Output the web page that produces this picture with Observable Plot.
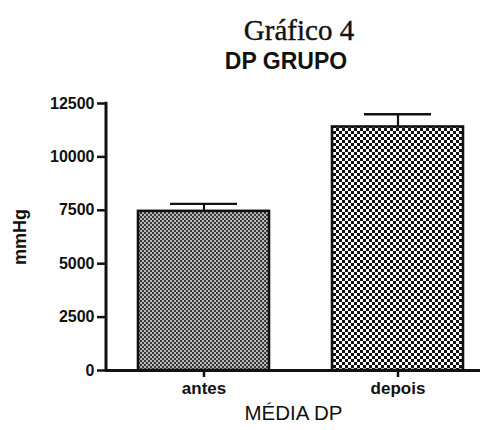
<!DOCTYPE html>
<html>
<head>
<meta charset="utf-8">
<script src="https://cdn.jsdelivr.net/npm/d3@7"></script>
<script src="https://cdn.jsdelivr.net/npm/@observablehq/plot@0.6"></script>
<style>
  body { margin: 0; background: #fff; width: 483px; height: 430px; overflow: hidden; }
  #head { height: 80px; position: relative; }
  #t1 { position: absolute; top: 16px; left: 0; width: 598px; text-align: center; font-family: "Liberation Serif", serif; font-size: 29px; line-height: 29px; color: #111; -webkit-text-stroke: 0.4px #111; white-space: nowrap; }
  #t2 { position: absolute; top: 50px; left: 0; width: 572px; text-align: center; font-family: "Liberation Sans", Arial, sans-serif; font-weight: bold; font-size: 23px; line-height: 23px; color: #111; white-space: nowrap; }
</style>
</head>
<body>
<div id="head"><div id="t1">Gráfico 4</div><div id="t2">DP GRUPO</div></div>
<div id="chart"></div>
<script>
const categories = ["antes", "depois"];
const means = [7450, 11400];
const errors = [350, 600];
const yTicks = [0, 2500, 5000, 7500, 10000, 12500];
const patternIds = ["patFine", "patCoarse"];

const data = categories.map((c, i) => ({cat: c, mean: means[i], top: means[i] + errors[i], pat: `url(#${patternIds[i]})`}));

const chart = Plot.plot({
  width: 483,
  height: 350,
  marginLeft: 106,
  marginRight: 3,
  marginTop: 23,
  marginBottom: 60,
  style: {fontFamily: "'Liberation Sans', Arial, sans-serif", background: "#fff", color: "#111"},
  x: {domain: categories, paddingInner: 0.325, paddingOuter: 0.126, align: 0.66, label: null},
  y: {domain: [0, 12500], label: null},
  marks: [
    Plot.barY(data, {x: "cat", y: "mean", fill: "pat", stroke: "#111", strokeWidth: 2.6}),
    Plot.ruleX(data, {x: "cat", y1: "mean", y2: "top", stroke: "#111", strokeWidth: 2.2}),
    Plot.tickY(data, {x: "cat", y: "top", stroke: "#111", strokeWidth: 2.4, insetLeft: 32, insetRight: 32}),
    Plot.ruleY([0], {stroke: "#111", strokeWidth: 3}),
    Plot.axisY({ticks: yTicks, tickFormat: d => String(d), tickSize: 9, tickPadding: 3, fontSize: 16, fontWeight: "bold", strokeWidth: 2.5, label: null}),
    Plot.axisX({tickSize: 7, tickPadding: 4, fontSize: 17, fontWeight: "bold", strokeWidth: 2.5, label: null}),
    Plot.text(["mmHg"], {frameAnchor: "left", textAnchor: "middle", rotate: -90, dx: -86.5, fontSize: 18, fontWeight: "bold"}),
    Plot.text(["MÉDIA DP"], {frameAnchor: "bottom", dy: 49, fontSize: 20.5})
  ]
});

const ns = "http://www.w3.org/2000/svg";
const defs = document.createElementNS(ns, "defs");
function makePattern(id, size, bg, fg) {
  const p = document.createElementNS(ns, "pattern");
  p.setAttribute("id", id);
  p.setAttribute("patternUnits", "userSpaceOnUse");
  p.setAttribute("width", size);
  p.setAttribute("height", size);
  const r0 = document.createElementNS(ns, "rect");
  r0.setAttribute("width", size); r0.setAttribute("height", size); r0.setAttribute("fill", bg);
  p.appendChild(r0);
  const h = size / 2;
  [[0, 0], [h, h]].forEach(([x, y]) => {
    const r = document.createElementNS(ns, "rect");
    r.setAttribute("x", x); r.setAttribute("y", y);
    r.setAttribute("width", h); r.setAttribute("height", h);
    r.setAttribute("fill", fg);
    p.appendChild(r);
  });
  defs.appendChild(p);
}
makePattern(patternIds[0], 4, "#b8b8b8", "#3a3a3a");
makePattern(patternIds[1], 6, "#ffffff", "#111111");
chart.insertBefore(defs, chart.firstChild);

// left axis line, positioned from the chart's own scales
const xr = chart.scale("x").range;
const ys = chart.scale("y");
const axisLine = document.createElementNS(ns, "line");
axisLine.setAttribute("x1", xr[0]);
axisLine.setAttribute("x2", xr[0]);
axisLine.setAttribute("y1", ys.apply(ys.domain[0]) + 1.5);
axisLine.setAttribute("y2", ys.apply(ys.domain[1]) - 1.2);
axisLine.setAttribute("stroke", "#111");
axisLine.setAttribute("stroke-width", 3);
chart.appendChild(axisLine);

document.getElementById("chart").appendChild(chart);
</script>
</body>
</html>
